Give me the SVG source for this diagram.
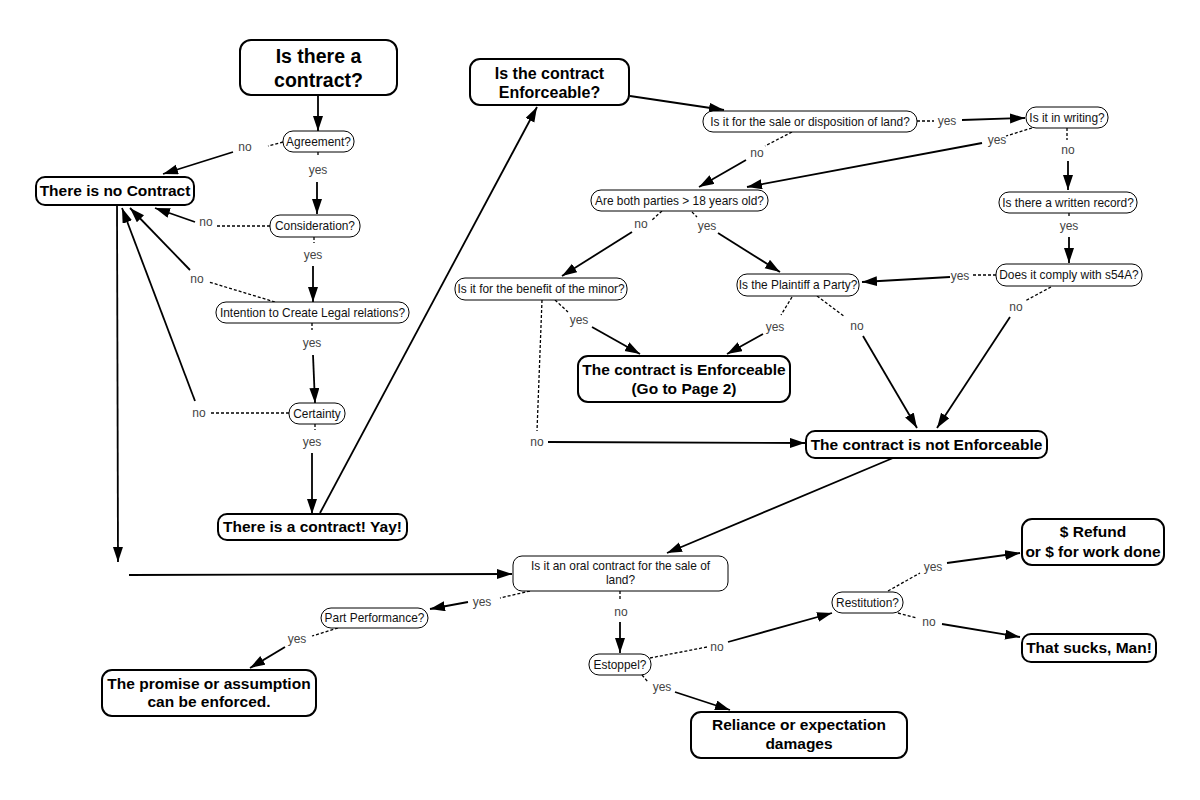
<svg xmlns="http://www.w3.org/2000/svg" width="1200" height="800" viewBox="0 0 1200 800">
<style>
.big{fill:#fff;stroke:#000;stroke-width:2}
.pill{fill:#fff;stroke:#000;stroke-width:1}
.bt{font-family:"Liberation Sans",Arial,sans-serif;font-weight:bold;font-size:15.5px;fill:#000;text-anchor:middle}
.st{font-family:"Liberation Sans",Arial,sans-serif;font-size:11.9px;fill:#111;text-anchor:middle}
.lb{font-family:"Liberation Sans",Arial,sans-serif;font-size:12px;fill:#444;text-anchor:middle}
.sol{fill:none;stroke:#000;stroke-width:1.8;marker-end:url(#ah)}
.dsh{fill:none;stroke:#000;stroke-width:1.3;stroke-dasharray:3 2}
</style>
<defs>
<marker id="ah" markerUnits="userSpaceOnUse" markerWidth="16" markerHeight="12" refX="15" refY="5" orient="auto">
<path d="M0,0 L15,5 L0,10 Z" fill="#000"/>
</marker>
</defs>
<rect width="1200" height="800" fill="#fff"/>

<g id="connectors">
<path class="sol" d="M318,95 L318,131"/>
<path class="dsh" d="M283,142 L268,146"/><text class="lb" x="245" y="151">no</text><path class="sol" d="M233,152 L163,174"/>
<path class="dsh" d="M318,152 L318,157"/><text class="lb" x="318" y="174">yes</text><path class="sol" d="M317,182 L317,214"/>
<path class="dsh" d="M270,226 L216,226"/><text class="lb" x="206" y="226">no</text><path class="sol" d="M195,222 L155,208"/>
<path class="dsh" d="M314,237 L314,243"/><text class="lb" x="313" y="259">yes</text><path class="sol" d="M313,266 L313,302"/>
<path class="dsh" d="M275,302 L209,282"/><text class="lb" x="197" y="283">no</text><path class="sol" d="M190,270 L130,208"/>
<path class="dsh" d="M312,323 L312,330"/><text class="lb" x="312" y="347">yes</text><path class="sol" d="M313,355 L315,403"/>
<path class="dsh" d="M289,413 L210,413"/><text class="lb" x="199" y="417">no</text><path class="sol" d="M195,401 L122,208"/>
<path class="dsh" d="M315,424 L315,430"/><text class="lb" x="312" y="446">yes</text><path class="sol" d="M312,453 L312,514"/>
<path class="sol" d="M320,513 L537,107"/>
<path class="sol" d="M117,205 L118,562"/>
<path class="sol" d="M129,575 L512,574"/>
<path class="sol" d="M630,96 L724,110"/>
<path class="dsh" d="M917,121 L934,121"/><text class="lb" x="947" y="125">yes</text><path class="sol" d="M962,120 L1025,118"/>
<path class="dsh" d="M792,132 L765,146"/><text class="lb" x="757" y="157">no</text><path class="sol" d="M746,160 L699,187"/>
<path class="dsh" d="M1032,128 L1006,136"/><text class="lb" x="997" y="144">yes</text><path class="sol" d="M982,143 L747,187"/>
<path class="dsh" d="M1067,128 L1067,140"/><text class="lb" x="1068" y="154">no</text><path class="sol" d="M1068,161 L1068,190"/>
<path class="dsh" d="M1069,213 L1069,217"/><text class="lb" x="1069" y="230">yes</text><path class="sol" d="M1069,237 L1069,263"/>
<path class="dsh" d="M996,275 L973,275"/><text class="lb" x="960" y="280">yes</text><path class="sol" d="M950,277 L862,282"/>
<path class="dsh" d="M1051,287 L1025,301"/><text class="lb" x="1016" y="311">no</text><path class="sol" d="M1010,317 L937,428"/>
<path class="dsh" d="M817,296 L845,317"/><text class="lb" x="857" y="330">no</text><path class="sol" d="M863,336 L917,428"/>
<path class="dsh" d="M792,297 L781,315"/><text class="lb" x="775" y="331">yes</text><path class="sol" d="M763,334 L727,354"/>
<path class="dsh" d="M555,300 L568,312"/><text class="lb" x="579" y="324">yes</text><path class="sol" d="M592,327 L640,354"/>
<path class="dsh" d="M542,300 L537,431"/><text class="lb" x="537" y="446">no</text><path class="sol" d="M548,442 L805,443"/>
<path class="dsh" d="M662,211 L652,220"/><text class="lb" x="641" y="228">no</text><path class="sol" d="M632,232 L562,276"/>
<path class="dsh" d="M692,212 L697,217"/><text class="lb" x="707" y="230">yes</text><path class="sol" d="M718,233 L780,272"/>
<path class="sol" d="M893,458 L667,553"/>
<path class="dsh" d="M530,591 L500,598"/><text class="lb" x="482" y="606">yes</text><path class="sol" d="M468,602 L430,609"/>
<path class="dsh" d="M620,591 L620,601"/><text class="lb" x="621" y="616">no</text><path class="sol" d="M620,622 L620,653"/>
<path class="dsh" d="M338,628 L312,636"/><text class="lb" x="297" y="643">yes</text><path class="sol" d="M285,647 L250,668"/>
<path class="dsh" d="M650,658 L707,647"/><text class="lb" x="717" y="651">no</text><path class="sol" d="M728,642 L832,613"/>
<path class="dsh" d="M642,675 L648,682"/><text class="lb" x="662" y="691">yes</text><path class="sol" d="M675,692 L730,710"/>
<path class="dsh" d="M888,591 L920,573"/><text class="lb" x="933" y="571">yes</text><path class="sol" d="M947,563 L1020,553"/>
<path class="dsh" d="M898,613 L917,618"/><text class="lb" x="929" y="626">no</text><path class="sol" d="M942,624 L1020,637"/>
</g>

<g id="n_is_contract"><rect class="big" x="240" y="40" width="157" height="55" rx="11"/><text class="bt" style="font-size:19.5px" x="318.5" y="63">Is there a</text><text class="bt" style="font-size:19.5px" x="318.5" y="87">contract?</text></g>
<g id="n_agreement"><rect class="pill" x="283" y="131" width="71" height="21" rx="10"/><text class="st" x="318.5" y="146">Agreement?</text></g>
<g id="n_no_contract"><rect class="big" x="36" y="177" width="158" height="28" rx="9"/><text class="bt" x="115" y="196">There is no Contract</text></g>
<g id="n_consideration"><rect class="pill" x="270" y="215" width="90" height="22" rx="10"/><text class="st" x="315" y="230">Consideration?</text></g>
<g id="n_intention"><rect class="pill" x="216" y="302" width="193" height="21" rx="10"/><text class="st" x="312.5" y="317">Intention to Create Legal relations?</text></g>
<g id="n_certainty"><rect class="pill" x="289" y="403" width="56" height="21" rx="10"/><text class="st" x="317" y="418">Certainty</text></g>
<g id="n_yay"><rect class="big" x="218" y="514" width="189" height="26" rx="9"/><text class="bt" x="312.5" y="532">There is a contract!  Yay!</text></g>
<g id="n_enforceable"><rect class="big" x="470" y="59" width="159" height="46" rx="10"/><text class="bt" style="font-size:16px" x="549.5" y="79">Is the contract</text><text class="bt" style="font-size:16px" x="549.5" y="98">Enforceable?</text></g>
<g id="n_sale"><rect class="pill" x="703" y="111" width="214" height="21" rx="10"/><text class="st" x="810" y="126">Is it for the sale or disposition of land?</text></g>
<g id="n_writing"><rect class="pill" x="1026" y="107" width="82" height="21" rx="10"/><text class="st" x="1067" y="122">Is it in writing?</text></g>
<g id="n_both"><rect class="pill" x="591" y="190" width="177" height="21" rx="10"/><text class="st" x="679.5" y="205">Are both parties &gt; 18 years old?</text></g>
<g id="n_record"><rect class="pill" x="999" y="192" width="138" height="21" rx="10"/><text class="st" x="1068" y="207">Is there a written record?</text></g>
<g id="n_s54a"><rect class="pill" x="996" y="264" width="146" height="22" rx="10"/><text class="st" x="1069" y="279">Does it comply with s54A?</text></g>
<g id="n_plaintiff"><rect class="pill" x="737" y="274" width="122" height="22" rx="10"/><text class="st" x="798" y="289">Is the Plaintiff a Party?</text></g>
<g id="n_minor"><rect class="pill" x="455" y="278" width="172" height="22" rx="10"/><text class="st" x="541" y="293">Is it for the benefit of the minor?</text></g>
<g id="n_enf_yes"><rect class="big" x="578" y="356" width="212" height="46" rx="10"/><text class="bt" x="684" y="375">The contract is Enforceable</text><text class="bt" x="684" y="394">(Go to Page 2)</text></g>
<g id="n_not_enf"><rect class="big" x="806" y="431" width="241" height="27" rx="9"/><text class="bt" x="926.5" y="450">The contract is not Enforceable</text></g>
<g id="n_oral"><rect class="pill" x="513" y="556" width="215" height="35" rx="9"/><text class="st" x="620.5" y="570">Is it an oral contract for the sale of</text><text class="st" x="620.5" y="584">land?</text></g>
<g id="n_part"><rect class="pill" x="321" y="608" width="107" height="20" rx="10"/><text class="st" x="374.5" y="622">Part Performance?</text></g>
<g id="n_promise"><rect class="big" x="102" y="670" width="214" height="46" rx="10"/><text class="bt" x="209" y="689">The promise or assumption</text><text class="bt" x="209" y="707">can be enforced.</text></g>
<g id="n_estoppel"><rect class="pill" x="589" y="654" width="62" height="21" rx="10"/><text class="st" x="620" y="669">Estoppel?</text></g>
<g id="n_reliance"><rect class="big" x="691" y="712" width="216" height="46" rx="10"/><text class="bt" x="799" y="730">Reliance or expectation</text><text class="bt" x="799" y="749">damages</text></g>
<g id="n_restitution"><rect class="pill" x="832" y="592" width="71" height="21" rx="10"/><text class="st" x="867.5" y="607">Restitution?</text></g>
<g id="n_refund"><rect class="big" x="1022" y="519" width="142" height="46" rx="10"/><text class="bt" x="1093" y="537">$ Refund</text><text class="bt" x="1093" y="557">or $ for work done</text></g>
<g id="n_sucks"><rect class="big" x="1022" y="634" width="134" height="28" rx="9"/><text class="bt" x="1089" y="653">That sucks, Man!</text></g>
</svg>
